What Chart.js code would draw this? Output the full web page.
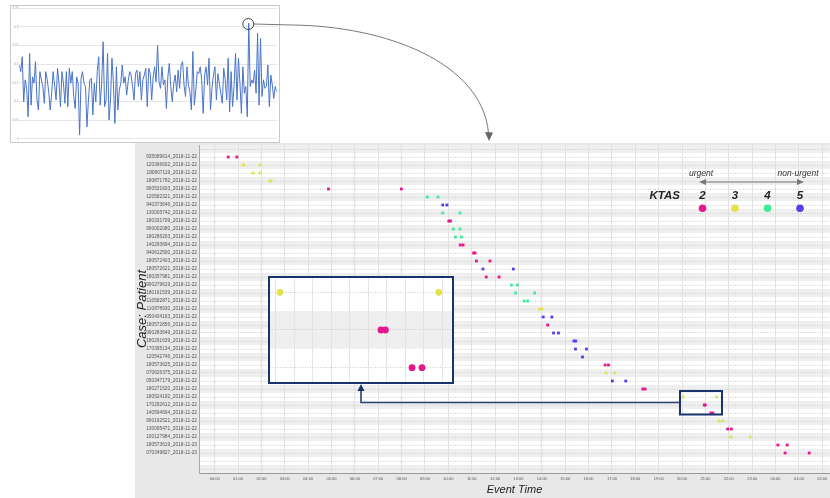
<!DOCTYPE html>
<html>
<head>
<meta charset="utf-8">
<title>KTAS event timeline</title>
<script src="https://cdn.jsdelivr.net/npm/chart.js@4.4.1/dist/chart.umd.min.js"></script>
<style>
  html, body { margin: 0; padding: 0; width: 830px; height: 498px; overflow: hidden; background: #fff; }
  .box { position: absolute; }
  #lineBox { left: 10px; top: 5px; width: 268px; height: 136px; border: 1px solid #cacaca; background: #fff; }
  #mainBox { left: 135px; top: 143px; width: 695px; height: 355px; background: #e8e8e8; }
  #zoomBox { left: 268px; top: 276px; width: 182px; height: 104px; border: 2px solid #17346c; background: #fff; }
  #overlay { position: absolute; left: 0; top: 0; pointer-events: none; }
</style>
</head>
<body>
<div class="box" id="lineBox"><canvas id="lineChart"></canvas></div>
<div class="box" id="mainBox"><canvas id="mainChart"></canvas></div>
<div class="box" id="zoomBox"><canvas id="zoomChart"></canvas></div>
<svg id="overlay" width="830" height="498" xmlns="http://www.w3.org/2000/svg"></svg>
<script>
// ---- overview line (top left) ----
const lineValues = [
  0.198, 0.180, 0.220, 0.099, 0.158, 0.135, 0.059, 0.229, 0.090, 0.166,
  0.149, 0.207, 0.104, 0.077, 0.180, 0.158, 0.140, 0.095, 0.180, 0.158,
  0.126, 0.077, 0.122, 0.180, 0.144, 0.104, 0.189, 0.149, 0.086, 0.180,
  0.149, 0.095, 0.180, 0.086, 0.189, 0.149, 0.180, 0.113, 0.081, 0.166,
  0.149, 0.010, 0.162, 0.180, 0.149, 0.140, 0.032, 0.104, 0.158, 0.162,
  0.064, 0.149, 0.099, 0.180, 0.220, 0.090, 0.149, 0.260, 0.086, 0.104,
  0.229, 0.050, 0.104, 0.216, 0.149, 0.041, 0.193, 0.077, 0.131, 0.149,
  0.198, 0.149, 0.166, 0.117, 0.153, 0.180, 0.171, 0.140, 0.104, 0.175,
  0.184, 0.140, 0.180, 0.104, 0.158, 0.171, 0.189, 0.086, 0.189, 0.175,
  0.104, 0.166, 0.193, 0.153, 0.251, 0.153, 0.135, 0.193, 0.144, 0.158,
  0.081, 0.166, 0.202, 0.140, 0.099, 0.149, 0.171, 0.126, 0.184, 0.135,
  0.198, 0.207, 0.144, 0.113, 0.193, 0.144, 0.126, 0.077, 0.234, 0.090,
  0.131, 0.180, 0.175, 0.193, 0.158, 0.068, 0.171, 0.193, 0.144, 0.216,
  0.077, 0.135, 0.171, 0.193, 0.104, 0.175, 0.149, 0.122, 0.095, 0.189,
  0.158, 0.104, 0.216, 0.072, 0.180, 0.086, 0.140, 0.229, 0.104, 0.216,
  0.149, 0.068, 0.193, 0.122, 0.140, 0.059, 0.310, 0.140, 0.158, 0.149,
  0.184, 0.122, 0.283, 0.090, 0.269, 0.113, 0.158, 0.135, 0.140, 0.198,
  0.086, 0.171, 0.144, 0.108, 0.140, 0.126
];
const lineXLabels = [
  '2018-01-01', '2018-02-01', '2018-03-01', '2018-04-01', '2018-05-01', '2018-06-01',
  '2018-07-01', '2018-08-01', '2018-09-01', '2018-10-01', '2018-11-01', '2018-12-01'
];
const lineYLabels = ['0', '0.05', '0.1', '0.15', '0.2', '0.25', '0.3', '0.35'];

// ---- patient cases (main chart) ----
const caseLabels = [
  '935089614_2018-11-22', '120366602_2018-11-22', '180807119_2018-11-22', '180871792_2018-11-22',
  '990531603_2018-11-22', '120582321_2018-11-22', '940373646_2018-11-22', '130005742_2018-11-22',
  '180331709_2018-11-22', '990002080_2018-11-22', '180286203_2018-11-22', '140293694_2018-11-22',
  '940612500_2018-11-22', '180572403_2018-11-22', '180572621_2018-11-22', '180357981_2018-11-22',
  '990279619_2018-11-22', '180161539_2018-11-22', '110582871_2018-11-22', '110878930_2018-11-22',
  '950434163_2018-11-22', '180572856_2018-11-22', '990283649_2018-11-22', '180291639_2018-11-22',
  '170395134_2018-11-22', '120542746_2018-11-22', '180573625_2018-11-22', '070626375_2018-11-22',
  '050347179_2018-11-22', '180271520_2018-11-22', '180524192_2018-11-22', '170292612_2018-11-22',
  '140594694_2018-11-22', '990192521_2018-11-22', '130095471_2018-11-22', '100127984_2018-11-22',
  '180573619_2018-11-23', '070349827_2018-11-23'
];
const caseKtas = [
  2, 3, 3, 3, 2, 4, 5, 4, 2, 4, 4, 2, 2, 2, 5, 2, 4, 4, 4,
  3, 5, 2, 5, 5, 5, 5, 2, 3, 5, 2, 3, 2, 2, 3, 2, 3, 2, 2
];
// event times in hours since 00:00 of 2018-11-22
const caseTimes = [
  [0.58, 0.95], [1.23, 1.94], [1.64, 1.94], [2.37, 2.41], [4.87, 7.99],
  [9.10, 9.56], [9.76, 9.94], [9.76, 10.50], [10.02, 10.09], [10.21, 10.50],
  [10.30, 10.56], [10.51, 10.63], [11.08, 11.14], [11.20, 11.78], [11.48, 12.78],
  [11.62, 12.17], [12.70, 12.95], [12.88, 13.69], [13.24, 13.39], [13.90, 14.00],
  [14.06, 14.43], [14.25], [14.50, 14.71], [15.37, 15.45], [15.44, 15.91],
  [15.74], [16.71, 16.85], [16.75, 17.12], [17.02, 17.59], [18.32, 18.42],
  [20.04, 21.47], [20.95, 20.99], [21.23, 21.32], [21.57, 21.74], [21.95, 22.11],
  [22.09, 22.92], [24.10, 24.50], [24.41, 25.44]
];
const hourLabels = [
  '00:00', '01:00', '02:00', '03:00', '04:00', '05:00', '06:00', '07:00', '08:00',
  '09:00', '10:00', '11:00', '12:00', '13:00', '14:00', '15:00', '16:00', '17:00',
  '18:00', '19:00', '20:00', '21:00', '22:00', '23:00', '00:00', '01:00', '02:00'
];
const ktasLevels = [2, 3, 4, 5];
const ktasColors = ['#e5178b', '#e2e24a', '#3eeb9d', '#5b3de6'];

const FONT = '"Liberation Sans", Arial, sans-serif';

// alternating row bands behind the timeline
const rowStripes = {
  id: 'rowStripes',
  beforeDraw(chart) {
    const {ctx, chartArea: a, scales: {y}} = chart;
    ctx.save();
    ctx.fillStyle = '#fff';
    ctx.fillRect(a.left, a.top, a.width, a.height);
    ctx.beginPath();
    ctx.rect(a.left, a.top, a.width, a.height);
    ctx.clip();
    ctx.fillStyle = '#efefef';
    for (let i = Math.floor(y.min); i <= Math.ceil(y.max); i++) {
      if (Math.abs(i) % 2 !== 1) continue;
      const p0 = y.getPixelForValue(i - 0.5);
      const p1 = y.getPixelForValue(i + 0.5);
      ctx.fillRect(a.left, Math.min(p0, p1), a.width, Math.abs(p1 - p0));
    }
    ctx.restore();
  }
};

function pointsFor(level) {
  const pts = [];
  caseLabels.forEach((c, i) => {
    if (caseKtas[i] === level) caseTimes[i].forEach(t => pts.push({x: t, y: i}));
  });
  return pts;
}

function timelineDatasets(radius, style) {
  return ktasLevels.map((level, k) => ({
    label: 'KTAS ' + level,
    data: pointsFor(level),
    backgroundColor: ktasColors[k],
    borderWidth: 0,
    pointRadius: radius,
    pointStyle: style
  }));
}

// one tick per whole row / hour between the axis bounds
function wholeTicks(scale) {
  const ticks = [];
  for (let v = Math.ceil(scale.min); v <= Math.floor(scale.max); v++) ticks.push({value: v});
  scale.ticks = ticks;
}

// ---- top-left line chart ----
new Chart(document.getElementById('lineChart'), {
  type: 'line',
  data: {
    datasets: [{
      data: lineValues.map((v, i) => ({x: i, y: v})),
      borderColor: '#4a74c8',
      borderWidth: 1,
      pointRadius: 0,
      tension: 0
    }]
  },
  options: {
    animation: false,
    responsive: true,
    maintainAspectRatio: false,
    events: [],
    layout: {autoPadding: false, padding: {top: 2.3, right: 2.3}},
    plugins: {legend: {display: false}, tooltip: {enabled: false}},
    scales: {
      x: {
        type: 'linear',
        min: 0,
        max: lineValues.length - 1,
        afterBuildTicks: s => { s.ticks = lineXLabels.map((t, i) => ({value: i * 14.75})); },
        afterFit: s => { s.height = 3.3; s.paddingLeft = 0; s.paddingRight = 0; },
        ticks: {
          font: {size: 3, family: FONT}, color: '#999', maxRotation: 0, autoSkip: false, padding: 0,
          callback: (v, i) => lineXLabels[i]
        },
        grid: {display: false},
        border: {display: false}
      },
      y: {
        min: 0,
        max: 0.35,
        afterFit: s => { s.width = 8.3; s.paddingTop = 0; s.paddingBottom = 0; },
        ticks: {
          stepSize: 0.05, font: {size: 3, family: FONT}, color: '#999', padding: 1,
          callback: (v, i) => lineYLabels[i]
        },
        grid: {color: '#e6e6e6', drawTicks: false},
        border: {display: false}
      }
    }
  }
});

// ---- main timeline ----
new Chart(document.getElementById('mainChart'), {
  type: 'scatter',
  data: {datasets: timelineDatasets(2, 'rect')},
  plugins: [rowStripes],
  options: {
    animation: false,
    responsive: true,
    maintainAspectRatio: false,
    events: [],
    layout: {autoPadding: false, padding: {top: 2}},
    plugins: {legend: {display: false}, tooltip: {enabled: false}},
    scales: {
      x: {
        type: 'linear',
        min: -0.67,
        max: 26.33,
        afterBuildTicks: wholeTicks,
        afterFit: s => { s.height = 25; s.paddingLeft = 0; s.paddingRight = 0; },
        ticks: {
          autoSkip: false, maxRotation: 0, padding: 3,
          font: {size: 4, family: FONT}, color: '#555',
          callback: v => hourLabels[v] || ''
        },
        grid: {color: '#e2e2e2', drawTicks: false},
        border: {color: '#999', width: 1},
        title: {
          display: true, text: 'Event Time', color: '#222',
          font: {size: 11, style: 'italic', family: FONT}, padding: {top: 0, bottom: 1.5}
        }
      },
      y: {
        type: 'linear',
        reverse: true,
        min: -1.5,
        max: 39.5,
        afterBuildTicks: wholeTicks,
        afterFit: s => { s.width = 64; s.paddingTop = 0; s.paddingBottom = 0; },
        ticks: {
          autoSkip: false, padding: 2,
          font: {size: 4.8, family: FONT}, color: '#555',
          callback: v => caseLabels[v] || ''
        },
        grid: {color: '#cfcfcf', drawTicks: false},
        border: {color: '#aaa', width: 1, dash: [1, 1.5]},
        title: {
          display: true, text: 'Case: Patient', color: '#222',
          font: {size: 13, style: 'italic', family: FONT}, padding: {top: 0, bottom: 0}
        }
      }
    }
  }
});

// ---- magnified view of rows 31-33 ----
new Chart(document.getElementById('zoomChart'), {
  type: 'scatter',
  data: {datasets: timelineDatasets(3.4, 'circle')},
  plugins: [rowStripes],
  options: {
    animation: false,
    responsive: true,
    maintainAspectRatio: false,
    events: [],
    layout: {autoPadding: false, padding: 0},
    plugins: {legend: {display: false}, tooltip: {enabled: false}},
    scales: {
      x: {
        type: 'linear', min: 19.95, max: 21.59,
        afterBuildTicks: s => {
          const ticks = [];
          for (let m = Math.ceil(s.min * 6); m <= Math.floor(s.max * 6); m++) ticks.push({value: m / 6});
          s.ticks = ticks;
        },
        ticks: {display: false},
        grid: {color: '#e4e4e4', drawTicks: false},
        border: {display: false}
      },
      y: {
        type: 'linear', reverse: true, min: 29.62, max: 32.38,
        afterBuildTicks: wholeTicks,
        ticks: {display: false},
        grid: {color: '#cccccc', drawTicks: false},
        border: {display: false, dash: [1, 1.5]}
      }
    }
  }
});

// ---- annotations and KTAS legend ----
const svg = document.getElementById('overlay');
let legendMarks = '';
ktasLevels.forEach((level, k) => {
  const x = 702.5 + k * 32.5;
  legendMarks += `<text x="${x}" y="198.5" text-anchor="middle">${level}</text>`;
  legendMarks += `<circle cx="${x}" cy="208.3" r="3.8" fill="${ktasColors[k]}" stroke="none"/>`;
});
svg.innerHTML = `
  <circle cx="248.3" cy="24" r="5.5" fill="none" stroke="#444" stroke-width="1"/>
  <path d="M254,24 L292,25 C385,26 482,62 488.5,133" fill="none" stroke="#777" stroke-width="1"/>
  <polygon points="489,141 485,132 493,132.5" fill="#666"/>
  <rect x="680" y="391" width="42" height="23.5" fill="none" stroke="#17346c" stroke-width="2"/>
  <polyline points="679,402.5 361,402.5 361,390" fill="none" stroke="#2a4274" stroke-width="1.6"/>
  <polygon points="361,384 357.5,391 364.5,391" fill="#17346c"/>
  <g font-family='${FONT}' font-style="italic" fill="#333" font-size="8.5" text-anchor="middle">
    <text x="701" y="176">urgent</text>
    <text x="798" y="176">non-urgent</text>
  </g>
  <line x1="705" y1="182" x2="798" y2="182" stroke="#777" stroke-width="1.2"/>
  <polygon points="699,182 706,179 706,185" fill="#777"/>
  <polygon points="804,182 797,179 797,185" fill="#777"/>
  <g font-family='${FONT}' font-style="italic" font-weight="bold" font-size="11.5" fill="#222">
    <text x="680" y="198.5" text-anchor="end">KTAS</text>
    ${legendMarks}
  </g>`;
</script>
</body>
</html>
